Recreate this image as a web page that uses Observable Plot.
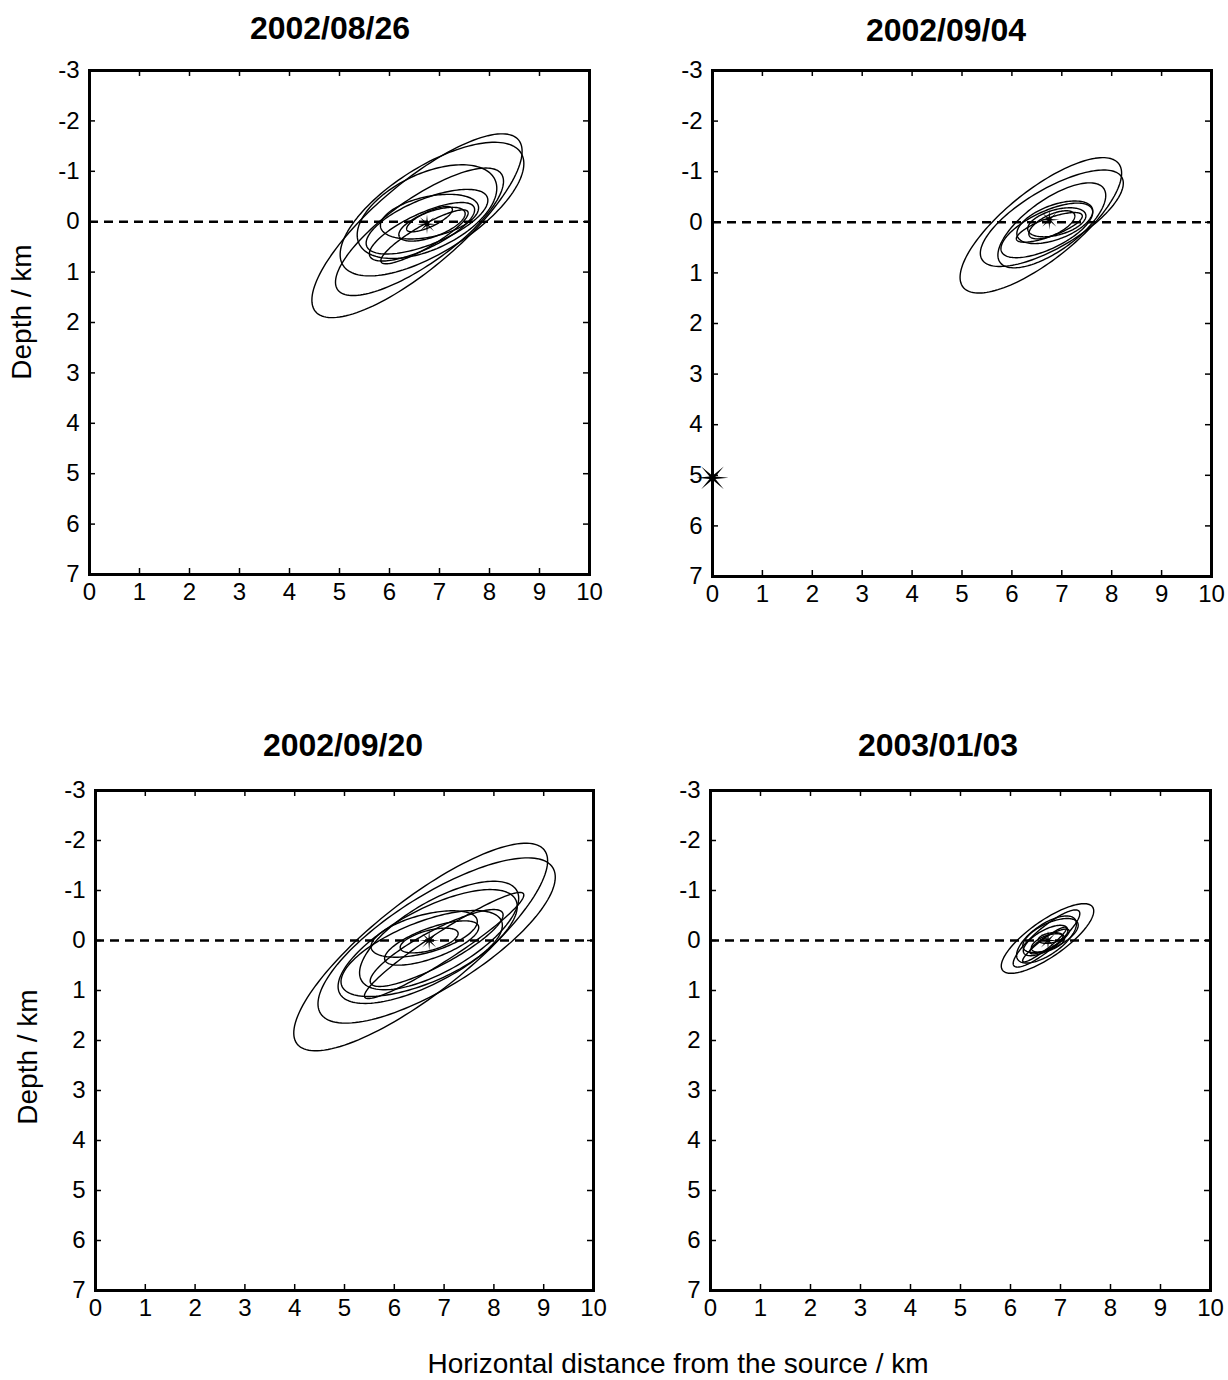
<!DOCTYPE html>
<html><head><meta charset="utf-8">
<script src="https://cdn.jsdelivr.net/npm/d3@7"></script>
<script src="https://cdn.jsdelivr.net/npm/@observablehq/plot@0.6"></script>
<style>
body{margin:0;background:#fff;font-family:"Liberation Sans",Arial,sans-serif;color:#000;}
#root{position:relative;width:1228px;height:1380px;overflow:hidden;background:#fff;}
.panel{position:absolute;}
.title{position:absolute;font-weight:bold;font-size:32px;transform:translate(-50%,-50%);white-space:nowrap;}
.ylab{position:absolute;font-size:28px;transform:translate(-50%,-50%) rotate(-90deg);white-space:nowrap;}
.xlab{position:absolute;font-size:28px;transform:translate(-50%,-50%);white-space:nowrap;}
</style></head><body><div id="root"></div>
<script>
// ---- data ----
const xTicks = [0,1,2,3,4,5,6,7,8,9,10];
const yTicks = [-3,-2,-1,0,1,2,3,4,5,6,7];
const titles = ["2002/08/26","2002/09/04","2002/09/20","2003/01/03"];
const xLabel = "Horizontal distance from the source / km";
const yLabel = "Depth / km";
// error ellipses: [centre distance km, centre depth km, semi-major km, semi-minor km, tilt deg]
const ell0826 = [
  [6.55, 0.08, 2.65, 0.85, 40],
  [6.85,-0.25, 2.10, 0.85, 32],
  [6.60, 0.20, 2.00, 0.65, 35],
  [6.75,-0.20, 1.50, 0.75, 25],
  [6.75, 0.00, 1.30, 0.45, 22],
  [6.80,-0.10, 1.00, 0.40, 12],
  [6.65, 0.20, 1.15, 0.35, 25],
  [6.85, 0.05, 0.70, 0.25, 20],
  [6.70, 0.30, 1.00, 0.22, 30],
  [6.80,-0.05, 0.50, 0.15, 25]
];
const ell0904 = [
  [6.58, 0.06, 1.98, 0.70, 38],
  [6.80,-0.08, 1.62, 0.58, 30],
  [6.80, 0.06, 1.27, 0.51, 35],
  [6.86, 0.00, 0.80, 0.34, 20],
  [6.70, 0.16, 1.00, 0.37, 25],
  [6.90, 0.00, 0.60, 0.25, 15],
  [6.80, 0.05, 0.50, 0.20, 25],
  [6.75, 0.10, 0.70, 0.18, 20]
];
const ell0920 = [
  [6.53, 0.13, 3.15, 0.94, 38],
  [6.85, 0.00, 2.75, 0.92, 32],
  [6.67, 0.12, 2.00, 0.73, 28],
  [6.90,-0.10, 1.80, 0.70, 30],
  [6.55, 0.26, 1.73, 0.61, 22],
  [6.60,-0.13, 1.10, 0.38, 15],
  [6.75, 0.05, 1.00, 0.30, 20],
  [6.85, 0.15, 1.50, 0.35, 28],
  [6.70, 0.00, 0.60, 0.20, 15],
  [7.00, 0.10, 1.90, 0.28, 33]
];
const ell0103 = [
  [6.74,-0.04, 1.10, 0.36, 35],
  [6.72,-0.04, 0.85, 0.22, 40],
  [6.80,-0.10, 0.60, 0.25, 25],
  [6.70, 0.00, 0.50, 0.20, 30],
  [6.75, 0.05, 0.35, 0.15, 20],
  [6.72,-0.02, 0.70, 0.30, 35],
  [6.78, 0.02, 0.45, 0.12, 30],
  [6.68, 0.08, 0.55, 0.10, 38],
  [6.80,-0.05, 0.25, 0.10, 10]
];
// hypocentre stars [distance, depth]
const star0826 = [[6.75, 0.05]];
const star0904 = [[6.75,-0.05]];
const star0920 = [[6.70, 0.00]];
const star0103 = [[6.75, 0.00]];
const sourceStar = [[0, 5.05]];

// ---- layout ----
const panels = [
  {title: titles[0], ell: ell0826, stars: star0826, src: [],          frame:[89,70,589,574],   tx:330, ty:28,  ylab:[22,312]},
  {title: titles[1], ell: ell0904, stars: star0904, src: sourceStar,  frame:[712,70,1211,576], tx:946, ty:30,  ylab:null},
  {title: titles[2], ell: ell0920, stars: star0920, src: [],          frame:[95,790,593,1290], tx:343, ty:745, ylab:[28,1057]},
  {title: titles[3], ell: ell0103, stars: star0103, src: [],          frame:[710,790,1210,1290], tx:938, ty:745, ylab:null}
];

const star8 = {
  draw(ctx, size) {
    const R = Math.sqrt(size / Math.PI), r = R * 0.2;
    for (let i = 0; i < 16; i++) {
      const a = i * Math.PI / 8, rr = i % 2 ? r : R;
      const px = rr * Math.cos(a), py = rr * Math.sin(a);
      if (i === 0) ctx.moveTo(px, py); else ctx.lineTo(px, py);
    }
    ctx.closePath();
  }
};

function ellipsePoints(ell) {
  const pts = [];
  ell.forEach(([cx, cz, a, b, ang], i) => {
    const th = ang * Math.PI / 180;
    for (let k = 0; k <= 144; k++) {
      const t = k / 144 * 2 * Math.PI;
      const u = a * Math.cos(t), v = b * Math.sin(t);
      pts.push({id: i, x: cx + u * Math.cos(th) - v * Math.sin(th), z: cz - (u * Math.sin(th) + v * Math.cos(th))});
    }
  });
  return pts;
}

const root = document.getElementById("root");
const mL = 60, mR = 30, mT = 10, mB = 45;
const fmt = d => String(d);

panels.forEach(p => {
  const [x0, y0, x1, y1] = p.frame;
  const iw = x1 - x0, ih = y1 - y0;
  const svg = Plot.plot({
    width: iw + mL + mR, height: ih + mT + mB,
    marginLeft: mL, marginRight: mR, marginTop: mT, marginBottom: mB,
    style: {fontFamily: "'Liberation Sans', Arial, sans-serif", fontSize: "24px", background: "transparent", color: "#000"},
    x: {domain: [0, 10]},
    y: {domain: [-3, 7], reverse: true},
    marks: [
      Plot.ruleY([0], {y: d => d, stroke: "black", strokeWidth: 2.6, strokeDasharray: "9,6"}),
      Plot.line(ellipsePoints(p.ell), {x: "x", y: "z", z: "id", stroke: "black", strokeWidth: 1.4}),
      Plot.ruleX(xTicks, {x: d => d, insetTop: ih - 6, stroke: "black", strokeWidth: 1.5}),
      Plot.ruleX(xTicks, {x: d => d, insetBottom: ih - 6, stroke: "black", strokeWidth: 1.5}),
      Plot.ruleY(yTicks, {y: d => d, insetRight: iw - 6, stroke: "black", strokeWidth: 1.5}),
      Plot.ruleY(yTicks, {y: d => d, insetLeft: iw - 6, stroke: "black", strokeWidth: 1.5}),
      Plot.axisX(xTicks, {tickSize: 0, tickPadding: 8, tickFormat: fmt, label: null, fontSize: 24}),
      Plot.axisY(yTicks, {tickSize: 0, tickPadding: 10, tickFormat: fmt, label: null, fontSize: 24}),
      Plot.dot(p.stars, {x: d => d[0], y: d => d[1], r: 10, symbol: star8, fill: "black", stroke: "none"}),
      Plot.dot(p.src, {x: d => d[0], y: d => d[1], r: 16, symbol: star8, fill: "black", stroke: "none"}),
      Plot.frame({stroke: "black", strokeWidth: 3})
    ]
  });
  svg.classList.add("panel");
  svg.style.left = (x0 - mL) + "px";
  svg.style.top = (y0 - mT) + "px";
  svg.style.overflow = "visible";
  root.appendChild(svg);

  const t = document.createElement("div");
  t.className = "title"; t.textContent = p.title;
  t.style.left = p.tx + "px"; t.style.top = p.ty + "px";
  root.appendChild(t);

  if (p.ylab) {
    const yl = document.createElement("div");
    yl.className = "ylab"; yl.textContent = yLabel;
    yl.style.left = p.ylab[0] + "px"; yl.style.top = p.ylab[1] + "px";
    root.appendChild(yl);
  }
});

const xl = document.createElement("div");
xl.className = "xlab"; xl.textContent = xLabel;
xl.style.left = "678px"; xl.style.top = "1364px";
root.appendChild(xl);
</script>
</body></html>
